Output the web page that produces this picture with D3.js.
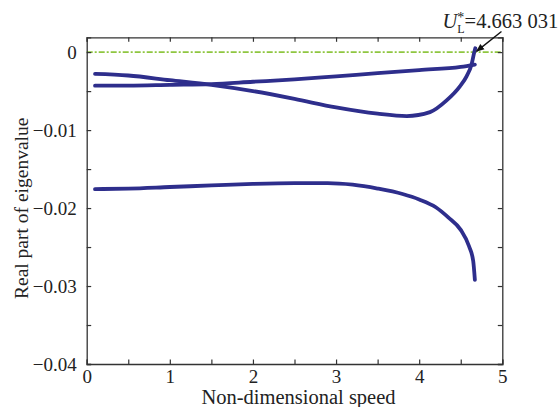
<!DOCTYPE html>
<html>
<head>
<meta charset="utf-8">
<script src="https://cdn.jsdelivr.net/npm/d3@7"></script>
<style>
  body { margin: 0; background: #fff; }
</style>
</head>
<body>
<svg width="559" height="407"></svg>
<script>
// eigenvalue branches
const speedA = [0.1, 0.5, 1.0, 1.5, 2.0, 2.5, 3.0, 3.5, 3.85, 4.13, 4.33, 4.49, 4.57, 4.63, 4.663, 4.675];
const realA  = [-0.0028, -0.0030, -0.0036, -0.0042, -0.0050, -0.0060, -0.0071, -0.0079, -0.0082, -0.0077, -0.0062, -0.0044, -0.0031, -0.0016, 0, 0.0005];

const speedB = [0.1, 0.5, 1.0, 1.5, 2.0, 2.5, 3.0, 3.5, 4.0, 4.5, 4.67];
const realB  = [-0.0043, -0.0043, -0.0042, -0.0041, -0.0038, -0.0035, -0.0031, -0.0027, -0.0023, -0.0019, -0.0016];

const speedC = [0.1, 0.5, 1.0, 1.5, 2.0, 2.5, 2.9, 3.2, 3.5, 3.8, 4.0, 4.2, 4.35, 4.5, 4.6, 4.65, 4.67];
const realC  = [-0.01757, -0.0175, -0.0173, -0.0171, -0.0169, -0.0168, -0.0168, -0.0170, -0.0175, -0.0182, -0.0189, -0.0199, -0.0212, -0.0228, -0.0249, -0.0268, -0.0292];

const xTicks = [0, 1, 2, 3, 4, 5];
const yTicks = [0, -0.01, -0.02, -0.03, -0.04];
const criticalSpeed = 4.663031;

const serif = "'Liberation Serif', 'Times New Roman', Times, serif";

const margin = { top: 37.3, right: 56.7, bottom: 43, left: 86.7 };
const width  = 559 - margin.left - margin.right;
const height = 407 - margin.top - margin.bottom;

const svg = d3.select("svg");
const chart = svg.append("g")
                 .attr("transform", `translate(${margin.left}, ${margin.top})`);

const xScale = d3.scaleLinear().domain([0, 5]).range([0, width]);
const yScale = d3.scaleLinear().domain([-0.04, 0.0019]).range([height, 0]);

const fmtY = d => d === 0 ? "0" : d3.format(".2f")(d).replace("-", "\u2212");

// zero line
chart.append("line")
     .attr("x1", xScale(0)).attr("x2", xScale(5))
     .attr("y1", yScale(0)).attr("y2", yScale(0))
     .attr("stroke", "#8fc640")
     .attr("stroke-width", 1.6)
     .attr("stroke-dasharray", "6,2,2,2");

// curves
const line = d3.line()
               .x(d => xScale(d[0]))
               .y(d => yScale(d[1]))
               .curve(d3.curveMonotoneX);

[[speedA, realA], [speedB, realB], [speedC, realC]].forEach(([xs, ys]) => {
  chart.append("path")
       .datum(xs.map((x, i) => [x, ys[i]]))
       .attr("d", line)
       .attr("fill", "none")
       .attr("stroke", "#2e2e8c")
       .attr("stroke-width", 3.8)
       .attr("stroke-linecap", "round");
});

// axes with inward ticks
const minorX = d3.range(0, 5.01, 0.5);
const minorY = d3.range(-0.04, 0.0001, 0.005);

chart.append("g")
     .attr("transform", `translate(0, ${height})`)
     .call(d3.axisBottom(xScale).tickValues(minorX).tickSize(-4.5)
             .tickFormat(d => xTicks.includes(d) ? d : ""))
     .call(g => g.selectAll("text").attr("y", 6).attr("dy", "0.71em"));

chart.append("g")
     .call(d3.axisLeft(yScale).tickValues(minorY).tickSize(-4.5)
             .tickFormat(d => yTicks.some(t => Math.abs(t - d) < 1e-9) ? fmtY(Math.round(d * 100) / 100) : ""))
     .call(g => g.selectAll("text").attr("x", -10));

chart.append("g")
     .call(d3.axisTop(xScale).tickValues(minorX).tickSize(-4.5).tickFormat(""));

chart.append("g")
     .attr("transform", `translate(${width}, 0)`)
     .call(d3.axisRight(yScale).tickValues(minorY).tickSize(-4.5).tickFormat(""));

chart.selectAll("g").attr("font-family", null).attr("font-size", null);
chart.selectAll(".tick text")
     .style("font-family", serif)
     .style("font-size", "19px")
     .style("fill", "#222");
chart.selectAll(".domain").attr("stroke", "#333").attr("stroke-width", 1.3);
chart.selectAll(".tick line").attr("stroke", "#333").attr("stroke-width", 1.2);

// axis titles
svg.append("text")
   .attr("x", margin.left + width / 2 + 4)
   .attr("y", 404)
   .attr("text-anchor", "middle")
   .style("font-family", serif)
   .style("font-size", "20.5px")
   .style("fill", "#222")
   .text("Non-dimensional speed");

svg.append("text")
   .attr("transform", `translate(28, ${margin.top + 171}) rotate(-90)`)
   .attr("text-anchor", "middle")
   .style("font-family", serif)
   .style("font-size", "19.5px")
   .style("fill", "#222")
   .text("Real part of eigenvalue");

// annotation
svg.append("defs").append("marker")
   .attr("id", "arrow")
   .attr("viewBox", "0 0 10 10")
   .attr("refX", 9).attr("refY", 5)
   .attr("markerWidth", 6).attr("markerHeight", 6)
   .attr("orient", "auto")
   .append("path")
   .attr("d", "M0,1 L10,5 L0,9 z")
   .attr("fill", "#111");

chart.append("line")
     .attr("x1", xScale(4.99)).attr("y1", yScale(0.00265))
     .attr("x2", xScale(4.69)).attr("y2", yScale(0.0001))
     .attr("stroke", "#111")
     .attr("stroke-width", 1.4)
     .attr("marker-end", "url(#arrow)");

const label = chart.append("text")
                   .attr("x", xScale(4.28))
                   .attr("y", yScale(0.0031))
                   .style("font-family", serif)
                   .style("font-size", "20.5px")
                   .style("fill", "#222");
label.append("tspan").style("font-style", "italic").text("U");
label.append("tspan").attr("dy", -6).style("font-size", "14px").text("*");
label.append("tspan").attr("dx", -7).attr("dy", 11).style("font-size", "12px").text("L");
label.append("tspan").attr("dy", -5).text("=" + d3.format(".6f")(criticalSpeed).replace(/(\.\d{3})/, "$1 "));
</script>
</body>
</html>
